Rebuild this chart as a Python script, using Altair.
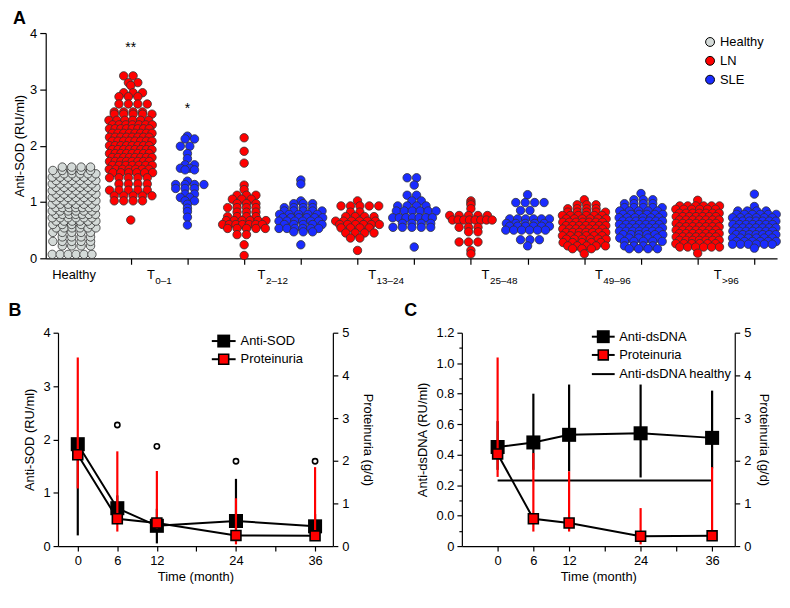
import altair as alt
import pandas as pd

FONT = "Liberation Sans"

# ---------------- Panel A: anti-SOD per group, dots read as rows [value, count] ----
healthy_rows = [[0.07, 6], [0.22, 4], [0.30, 5], [0.38, 4], [0.46, 5], [0.54, 6], [0.60, 5],
                [0.66, 6], [0.72, 6], [0.78, 7], [0.84, 6], [0.90, 7], [0.96, 6], [1.02, 6],
                [1.08, 6], [1.14, 6], [1.20, 6], [1.26, 6], [1.32, 6], [1.38, 6], [1.44, 6],
                [1.50, 6], [1.56, 5], [1.62, 4]]
ln_t01_rows = [[3.24, 2], [3.12, 2], [3.07, 1], [2.94, 3], [2.87, 3], [2.74, 4], [2.60, 4],
               [2.56, 5], [2.45, 6], [2.37, 7], [2.30, 8], [2.22, 8], [2.15, 8], [2.08, 8],
               [2.00, 8], [1.93, 8], [1.86, 8], [1.79, 8], [1.72, 8], [1.65, 7], [1.58, 7],
               [1.52, 6], [1.43, 5], [1.32, 4], [1.21, 5], [1.11, 5], [1.02, 4], [0.68, 1]]
sle_t01_rows = [[2.17, 1], [2.12, 2], [1.99, 2], [1.86, 1], [1.77, 1], [1.66, 2], [1.60, 2],
                [1.57, 2], [1.37, 1], [1.31, 4], [1.24, 3], [1.14, 2], [1.08, 2], [1.02, 2],
                [0.96, 1], [0.89, 1], [0.83, 1], [0.73, 1], [0.59, 1]]
ln_t212_rows = [[2.14, 1], [1.90, 1], [1.69, 1], [1.30, 1], [1.22, 1], [1.12, 3], [1.05, 3],
                [0.97, 3], [0.90, 4], [0.82, 3], [0.74, 4], [0.67, 6], [0.60, 7], [0.53, 5],
                [0.42, 2], [0.24, 1], [0.05, 1]]
sle_t212_rows = [[1.39, 1], [1.32, 1], [1.02, 1], [0.97, 3], [0.90, 4], [0.84, 5], [0.78, 5],
                 [0.72, 6], [0.66, 6], [0.60, 5], [0.53, 6], [0.47, 3], [0.24, 1]]
ln_t1324_rows = [[1.02, 1], [0.93, 5], [0.82, 2], [0.74, 4], [0.66, 6], [0.60, 6], [0.54, 4],
                 [0.45, 4], [0.36, 2], [0.14, 1]]
sle_t1324_rows = [[1.43, 2], [1.30, 1], [1.12, 2], [1.02, 2], [0.93, 4], [0.84, 6], [0.72, 7],
                  [0.62, 4], [0.55, 5], [0.20, 1]]
ln_t2548_rows = [[1.02, 1], [0.98, 1], [0.95, 1], [0.88, 1], [0.76, 5], [0.68, 8], [0.55, 3],
                 [0.47, 2], [0.29, 3], [0.14, 1], [0.08, 1]]
sle_t2548_rows = [[1.13, 1], [0.99, 4], [0.85, 2], [0.70, 6], [0.62, 5], [0.57, 6], [0.50, 6],
                  [0.33, 3], [0.22, 1]]
ln_t4996_rows = [[1.04, 1], [0.95, 3], [0.88, 4], [0.82, 5], [0.76, 6], [0.70, 6], [0.64, 7],
                 [0.58, 7], [0.52, 7], [0.46, 7], [0.40, 6], [0.34, 6], [0.28, 5], [0.22, 5],
                 [0.17, 3], [0.08, 1]]
sle_t4996_rows = [[1.15, 1], [1.04, 3], [0.97, 4], [0.90, 5], [0.84, 5], [0.78, 6], [0.72, 6],
                  [0.66, 7], [0.60, 7], [0.54, 7], [0.48, 7], [0.42, 6], [0.36, 5], [0.30, 5],
                  [0.22, 4], [0.17, 4]]
ln_t96_rows = [[1.03, 1], [0.93, 6], [0.87, 6], [0.80, 7], [0.74, 7], [0.68, 7], [0.62, 7],
               [0.56, 7], [0.50, 7], [0.44, 7], [0.38, 7], [0.32, 7], [0.26, 6], [0.20, 6],
               [0.09, 1]]
sle_t96_rows = [[1.14, 1], [0.92, 1], [0.84, 4], [0.78, 6], [0.72, 6], [0.66, 7], [0.60, 7],
                [0.54, 7], [0.48, 7], [0.42, 7], [0.36, 6], [0.30, 6], [0.25, 6], [0.18, 1]]

group_rows = [healthy_rows, ln_t01_rows, sle_t01_rows, ln_t212_rows, sle_t212_rows,
              ln_t1324_rows, sle_t1324_rows, ln_t2548_rows, sle_t2548_rows,
              ln_t4996_rows, sle_t4996_rows, ln_t96_rows, sle_t96_rows]
group_cats = ["Healthy"] + ["LN", "SLE"] * 6
cat_names = ["Healthy", "LN", "SLE"]
cat_colors = ["#d4dad8", "#ff0000", "#1a2cff"]
period_subs = ["0\u20131", "2\u201312", "13\u201324", "25\u201348", "49\u201396", ">96"]
ann_x = [1, 2]
ann_y = [3.66, 2.58]
ann_text = ["**", "*"]

A_W, A_H = 737, 227
A_DOM = [-0.5, 12.4]
PXU = A_W / (A_DOM[1] - A_DOM[0])
DOT, MAXW = 9.5, 40.0

recs = []
for pos, (cat, rows) in enumerate(zip(group_cats, group_rows)):
    for k, (v, n) in enumerate(rows):
        s = DOT if n == 1 else min(DOT, MAXW / (n - 1))
        shift = 0 if n == 1 else (s / 4 if k % 2 else -s / 4)
        for i in range(n):
            off = (i - (n - 1) / 2) * s + shift
            recs.append({"cat": cat, "val": v, "xp": pos + off / PXU})
a_df = pd.DataFrame(recs)

x_scale_a = alt.Scale(domain=A_DOM, nice=False, zero=False)
x_axis_a = alt.Axis(values=list(range(1, 13)), labels=False, tickSize=6, title=None, grid=False)
y_scale_a = alt.Scale(domain=[0, 4], nice=False, zero=False)
y_axis_a = alt.Axis(values=[0, 1, 2, 3, 4], title="Anti-SOD (RU/ml)", tickSize=6,
                    labelPadding=3, titlePadding=3, grid=False)


def xa(field):
    return alt.X(field, scale=x_scale_a, axis=x_axis_a)


a_points = alt.Chart(a_df).mark_circle(size=72, opacity=1, stroke="#333333", strokeWidth=0.8).encode(
    x=xa("xp:Q"),
    y=alt.Y("val:Q", scale=y_scale_a, axis=y_axis_a),
    fill=alt.Fill("cat:N", scale=alt.Scale(domain=cat_names, range=cat_colors),
                  legend=alt.Legend(title=None, orient="none", legendX=663, legendY=2.5,
                                    symbolType="circle", symbolSize=80, symbolStrokeColor="black",
                                    symbolStrokeWidth=1, labelOffset=3.5, rowPadding=5, padding=0)),
)

ann_df = pd.DataFrame({"x": ann_x, "y": ann_y, "t": ann_text})
a_ann = alt.Chart(ann_df).mark_text(fontSize=14, baseline="alphabetic", color="black").encode(
    x=xa("x:Q"), y=alt.Y("y:Q", scale=y_scale_a, axis=y_axis_a), text="t:N")

# x-axis labels: "Healthy" and T with subscript, centred between the LN/SLE pair
w_t = 0.611 * 13
lab_pos, lab_sub = [], []
for k, sub in enumerate(period_subs):
    mid = 1.5 + 2 * k
    w_s = sum(5.84 if c == ">" else 5.56 for c in sub)
    lab_pos.append(mid + (-(w_t + w_s) / 2 + w_t) / PXU)
    lab_sub.append(sub)
t_df = pd.DataFrame({"x": lab_pos, "sub": lab_sub, "T": ["T"] * len(lab_pos)})
h_df = pd.DataFrame({"x": [0], "t": ["Healthy"]})

a_lab_h = alt.Chart(h_df).mark_text(fontSize=13, align="center", baseline="alphabetic", color="black").encode(
    x=xa("x:Q"), y=alt.value(A_H + 21), text="t:N")
a_lab_t = alt.Chart(t_df).mark_text(fontSize=13, align="right", baseline="alphabetic", color="black").encode(
    x=xa("x:Q"), y=alt.value(A_H + 21), text="T:N")
a_lab_s = alt.Chart(t_df).mark_text(fontSize=10, align="left", baseline="alphabetic", color="black", dx=0.5).encode(
    x=xa("x:Q"), y=alt.value(A_H + 26), text="sub:N")
a_letter = alt.Chart(pd.DataFrame({"t": ["A"]})).mark_text(
    fontSize=18, fontWeight="bold", align="left", baseline="top", color="black").encode(
    text="t:N", x=alt.value(-33), y=alt.value(-23))

panel_a = alt.layer(a_points, a_ann, a_lab_h, a_lab_t, a_lab_s, a_letter).properties(width=A_W, height=A_H)

# ---------------- Panels B and C: follow-up over time -------------------------
months = [0, 6, 12, 24, 36]

b_sod = [1.91, 0.71, 0.38, 0.47, 0.37]
b_sod_lo = [0.20, 0.45, 0.05, 0.20, 0.20]
b_sod_hi = [1.95, 0.95, 0.70, 1.26, 0.60]
b_prot = [2.14, 0.64, 0.54, 0.25, 0.24]
b_prot_lo = [1.35, 0.34, 0.40, 0.04, 0.20]
b_prot_hi = [4.42, 2.22, 1.76, 1.12, 1.85]
b_out_x = [6, 12, 24, 36]
b_out_y = [2.27, 1.87, 1.59, 1.59]
b_series = ["Anti-SOD", "Proteinuria"]

c_dna = [0.45, 0.48, 0.53, 0.54, 0.51]
c_dna_lo = [0.30, 0.30, 0.29, 0.25, 0.31]
c_dna_hi = [0.62, 0.80, 0.86, 0.86, 0.82]
c_prot = [2.16, 0.64, 0.54, 0.23, 0.24]
c_prot_lo = [1.62, 0.34, 0.34, 0.04, 0.20]
c_prot_hi = [4.42, 2.18, 1.75, 0.89, 1.85]
healthy_span = [0, 36]
healthy_dna = 0.23
c_series = ["Anti-dsDNA", "Proteinuria", "Anti-dsDNA healthy"]

BC_H = 215
time_axis = alt.Axis(values=[0, 6, 12, 18, 24, 30, 36],
                     labelExpr="datum.value == 18 || datum.value == 30 ? '' : datum.label",
                     title="Time (month)", tickSize=5, labelPadding=4, titlePadding=3, grid=False)
right_scale = alt.Scale(domain=[0, 5], nice=False, zero=False)


def right_axis(pad):
    return alt.Axis(orient="right", values=[0, 1, 2, 3, 4, 5], title="Proteinuria (g/d)",
                    tickSize=5, labelPadding=4, titlePadding=pad, grid=False)


ONE = pd.DataFrame({"k": [0]})


def legend_entry(label, kind, y, lx1, lx2, tx):
    """Legend key drawn in the panel's own pixel frame."""
    out = [alt.Chart(ONE).mark_rule(color="black", strokeWidth=2).encode(
        x=alt.value(lx1), x2=alt.value(lx2), y=alt.value(y))]
    sx = (lx1 + lx2) / 2
    if kind == "black":
        out.append(alt.Chart(ONE).mark_square(color="black", size=170, opacity=1).encode(
            x=alt.value(sx), y=alt.value(y)))
    elif kind == "red":
        out.append(alt.Chart(ONE).mark_square(fill="red", stroke="black", strokeWidth=1.6,
                                              size=100, opacity=1).encode(
            x=alt.value(sx), y=alt.value(y)))
    out.append(alt.Chart(ONE).mark_text(align="left", baseline="middle", fontSize=13,
                                        color="black").encode(
        x=alt.value(tx), y=alt.value(y), text=alt.value(label)))
    return out


def make_panel(letter, letter_x, xdom, width, df, left_scale, left_axis, r_pad, extra_left, legend):
    def xx():
        return alt.X("month:Q", scale=alt.Scale(domain=xdom, nice=False, zero=False), axis=time_axis)

    base = alt.Chart(df)
    v_bar = base.mark_rule(color="black", strokeWidth=2.2).encode(
        x=xx(), y=alt.Y("v_lo:Q", scale=left_scale, axis=left_axis), y2="v_hi:Q")
    v_line = base.mark_line(color="black", strokeWidth=2).encode(
        x=xx(), y=alt.Y("v:Q", scale=left_scale, axis=None))
    p_line = base.mark_line(color="black", strokeWidth=2).encode(
        x=xx(), y=alt.Y("p:Q", scale=right_scale, axis=None))
    v_sq = base.mark_square(color="black", size=200, opacity=1).encode(
        x=xx(), y=alt.Y("v:Q", scale=left_scale, axis=None))
    p_bar = base.mark_rule(color="red", strokeWidth=2.2).encode(
        x=xx(), y=alt.Y("p_lo:Q", scale=right_scale, axis=right_axis(r_pad)), y2="p_hi:Q")
    p_sq = base.mark_square(fill="red", stroke="black", strokeWidth=1.6, size=100, opacity=1).encode(
        x=xx(), y=alt.Y("p:Q", scale=right_scale, axis=None))
    let = alt.Chart(pd.DataFrame({"t": [letter]})).mark_text(
        fontSize=18, fontWeight="bold", align="left", baseline="top", color="black").encode(
        text="t:N", x=alt.value(letter_x), y=alt.value(-31))

    layers = [v_bar] + extra_left(xx) + [v_line, p_line, v_sq, p_bar, p_sq] + legend + [let]
    return alt.layer(*layers).resolve_scale(y="independent").properties(width=width, height=BC_H)


b_df = pd.DataFrame({"month": months, "v": b_sod, "v_lo": b_sod_lo, "v_hi": b_sod_hi,
                     "p": b_prot, "p_lo": b_prot_lo, "p_hi": b_prot_hi})
b_left_scale = alt.Scale(domain=[0, 4], nice=False, zero=False)
b_left_axis = alt.Axis(orient="left", values=[0, 1, 2, 3, 4], title="Anti-SOD (RU/ml)",
                       tickSize=5, labelPadding=3, titlePadding=6, grid=False)
b_out_df = pd.DataFrame({"month": b_out_x, "o": b_out_y})


def b_extra(xx):
    return [alt.Chart(b_out_df).mark_point(shape="circle", filled=False, color="black",
                                           strokeWidth=1.6, size=28, opacity=1).encode(
        x=xx(), y=alt.Y("o:Q", scale=b_left_scale, axis=None))]


b_legend = (legend_entry(b_series[0], "black", 8.4, 155, 179, 184)
            + legend_entry(b_series[1], "red", 26.7, 155, 179, 184))
panel_b = make_panel("B", -50, [-3, 38.7], 277, b_df, b_left_scale, b_left_axis, 12, b_extra, b_legend)

c_df = pd.DataFrame({"month": months, "v": c_dna, "v_lo": c_dna_lo, "v_hi": c_dna_hi,
                     "p": c_prot, "p_lo": c_prot_lo, "p_hi": c_prot_hi})
c_left_scale = alt.Scale(domain=[-0.2, 1.2], nice=False, zero=False)
c_major = [-0.2, 0.0, 0.2, 0.4, 0.6, 0.8, 1.0, 1.2]
c_minor = [-0.1, 0.1, 0.3, 0.5, 0.7, 0.9, 1.1]
c_left_axis = alt.Axis(orient="left", values=c_major, title="Anti-dsDNA (RU/ml)",
                       labelExpr="datum.value < -0.1 ? '0' : format(datum.value, '.1f')",
                       tickSize=5, labelPadding=3, titlePadding=7, grid=False)
c_minor_axis = alt.Axis(orient="left", values=c_minor, labels=False, domain=False, title=None,
                        tickSize=3, grid=False)
healthy_df = pd.DataFrame({"m0": [healthy_span[0]], "m1": [healthy_span[1]], "h": [healthy_dna]})
C_DOM = [-6, 39.8]


def c_extra(xx):
    minor = alt.Chart(c_df).mark_point(opacity=0).encode(
        x=xx(), y=alt.Y("v:Q", scale=c_left_scale, axis=c_minor_axis))
    hline = alt.Chart(healthy_df).mark_rule(color="black", strokeWidth=2).encode(
        x=alt.X("m0:Q", scale=alt.Scale(domain=C_DOM, nice=False, zero=False), axis=time_axis),
        x2="m1:Q", y=alt.Y("h:Q", scale=c_left_scale, axis=None))
    return [minor, hline]


c_legend = (legend_entry(c_series[0], "black", 4, 131, 154, 158.5)
            + legend_entry(c_series[1], "red", 22.4, 131, 154, 158.5)
            + legend_entry(c_series[2], "line", 41.7, 131, 154, 158.5))
panel_c = make_panel("C", -58, C_DOM, 275, c_df, c_left_scale, c_left_axis, 6, c_extra, c_legend)

bc = alt.hconcat(panel_b, panel_c, spacing=30)

chart = alt.concat(
    panel_a, bc,
    columns=1, spacing=16, center=True,
).properties(
    padding={"left": 0, "right": 0, "top": 0, "bottom": 0}
).configure_view(stroke=None).configure_axis(
    labelFont=FONT, titleFont=FONT, labelFontSize=13, titleFontSize=13, titleFontWeight="normal",
    labelColor="black", titleColor="black", domainColor="black", tickColor="black",
    domainWidth=1.2, tickWidth=1.2, grid=False,
).configure_legend(
    labelFont=FONT, labelFontSize=13, labelColor="black",
).configure_text(font=FONT)

chart.save("out.html", embed_options={"renderer": "svg", "actions": False})
